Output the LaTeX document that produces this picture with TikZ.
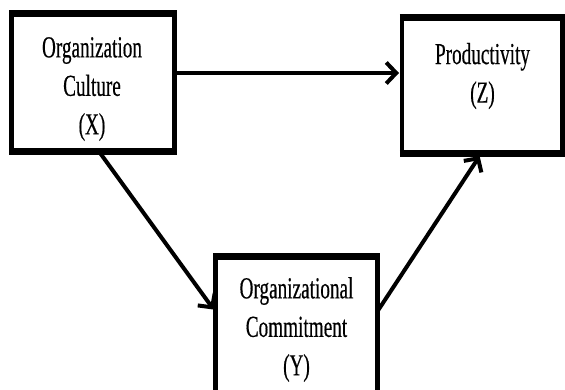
\documentclass[tikz,border=0pt]{standalone}
\usepackage{fontspec}
\setmainfont[FakeStretch=0.63, FakeBold=0.4]{Liberation Serif}
\usetikzlibrary{arrows.meta}

\tikzset{
	box/.style={draw, line width=4.5pt, outer sep=0pt, inner sep=0pt},
	rim/.style={line width=7pt, shorten <=-2.25pt, shorten >=-2.25pt},
	lbl/.style={align=center, inner sep=0pt, font=\fontsize{30.5}{38.5}\selectfont},
	arr/.style={line width=4pt, -{Straight Barb[length=10pt,width=21pt,line width=4pt]}, shorten >=3pt}
}

\begin{document}
\begin{tikzpicture}[x=1pt, y=-1pt]
			%%%%% FRAME %%%%%
			\useasboundingbox (0, 0) rectangle (565, 389);
			\clip (0, 0) rectangle (565, 389);
			
			%%%%% BOXES %%%%%
			\node[box, minimum width=163, minimum height=138] (X) at (93, 82.5) {};
			\node[box, minimum width=160.5, minimum height=136] (Z) at (482.25, 85.5) {};
			\node[box, minimum width=162, minimum height=145.5] (Y) at (296.5, 329.25) {};
			
			\foreach \n in {X, Y, Z} {
				\draw[rim] (\n.north west) -- (\n.north east);
				\draw[rim] (\n.south west) -- (\n.south east);
			}
			
			%%%%% TEXT %%%%%
			\node[lbl] (Xt) at (92, 89) {Organization\\Culture\\(X)};
			\node[lbl] (Zt) at (482.5, 76) {Productivity\\(Z)};
			\node[lbl] (Yt) at (296.5, 329.5) {Organizational\\Commitment\\(Y)};
			
			%%%%% ARROWS %%%%%
			\draw[arr] ([yshift=9.5pt]X.east) -- ([yshift=9.5pt]X.east -| Z.west);
			\draw[arr] ([xshift=6pt]X.south) -- ([yshift=17.25pt]Y.west);
			\draw[arr] ([yshift=18pt]Y.east) -- ([xshift=-1pt]Z.south);
		\end{tikzpicture}
\end{document}
